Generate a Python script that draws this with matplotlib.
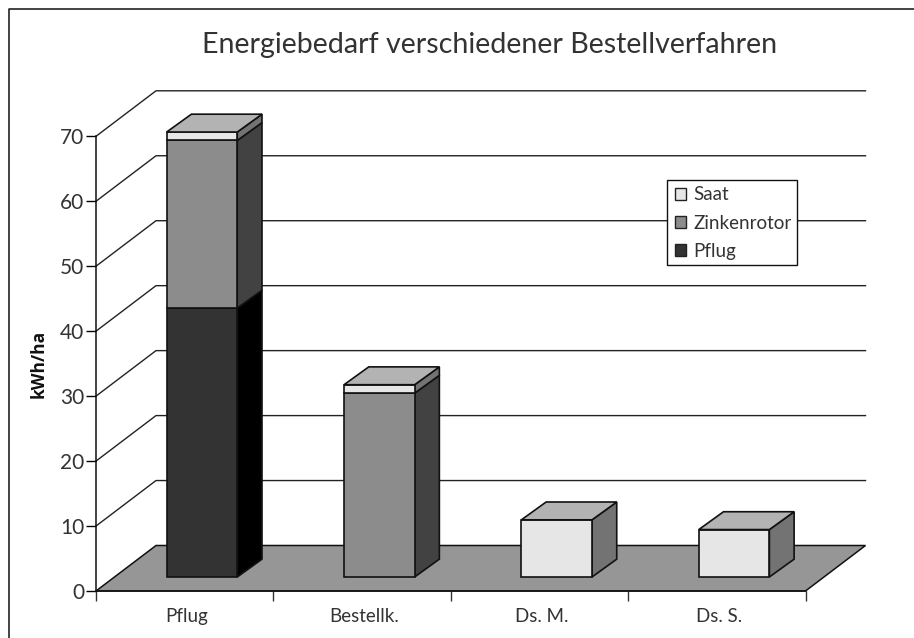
"""
Energiebedarf verschiedener Bestellverfahren - pseudo-3D gestapelte Saeulen
"""
import numpy as np
import matplotlib
matplotlib.use('Agg')
import matplotlib.pyplot as plt
from matplotlib.patches import Polygon, Rectangle

plt.rcParams['font.family'] = ['Lato', 'DejaVu Sans']

# ============================================================
# Daten
# ============================================================

categories = ['Pflug', 'Bestellk.', 'Ds. M.', 'Ds. S.']
pflug = [41.4, 0, 0, 0]
zinkenrotor = [25.8, 28.3, 0, 0]
saat = [1.3, 1.3, 8.8, 7.3]
y_ticks = [0, 10, 20, 30, 40, 50, 60, 70]

# Farben: front, top, side
colors = {
    'Pflug': ('#333333', '#1a1a1a', '#000000'),
    'Zinkenrotor': ('#8c8c8c', '#b3b3b3', '#424242'),
    'Saat': ('#e6e6e6', '#b3b3b3', '#737373'),
}

W, H = 914, 638
fig = plt.figure(figsize=(W / 100, H / 100), dpi=100)

# Vorderkante des Diagramms in Pixeln
x0, x1 = 96, 805.5
y0, y70 = 591, 136.3
ax = fig.add_axes([x0 / W, 1 - y0 / H, (x1 - x0) / W, (y0 - y70) / H])
ax.set_xlim(0, 4)
ax.set_ylim(0, 70)
ax.patch.set_visible(False)

# Tiefe in Datenkoordinaten
depth_x = 60 / ((x1 - x0) / 4)
depth_y = 45.5 / ((y0 - y70) / 70)

# Boden
ax.add_patch(Polygon([(0, 0), (4, 0), (4 + depth_x, depth_y), (depth_x, depth_y)],
                     closed=True, fc='#969696', ec='#111111', lw=1.1, clip_on=False, zorder=1))

# Gitterlinien
for t in y_ticks[1:]:
    ax.plot([0, depth_x, 4 + depth_x], [t, t + depth_y, t + depth_y],
            color='#222222', lw=1.0, clip_on=False, zorder=1)

# Saeulen
bar_w = 0.398
front_x, back_x = 0.288, 0.70
front_y, back_y = 0.308, 0.70


def draw_box(xc, bottom, height, cols):
    left = xc - bar_w / 2 + front_x * depth_x
    right = left + bar_w
    y_b = bottom + front_y * depth_y
    y_t = y_b + height
    ddx = (back_x - front_x) * depth_x
    ddy = (back_y - front_y) * depth_y
    kw = dict(closed=True, ec='#111111', lw=1.2, clip_on=False, zorder=3, joinstyle='miter')
    ax.add_patch(Polygon([(right, y_b), (right + ddx, y_b + ddy), (right + ddx, y_t + ddy), (right, y_t)],
                         fc=cols[2], **kw))
    ax.add_patch(Polygon([(left, y_b), (right, y_b), (right, y_t), (left, y_t)], fc=cols[0], **kw))
    return left, right, y_t, ddx, ddy


for i in range(len(categories)):
    bottom = 0
    last = None
    for name, vals in [('Pflug', pflug), ('Zinkenrotor', zinkenrotor), ('Saat', saat)]:
        if vals[i] > 0:
            last = draw_box(i + 0.5, bottom, vals[i], colors[name])
            bottom += vals[i]
    left, right, y_t, ddx, ddy = last
    ax.add_patch(Polygon([(left, y_t), (right, y_t), (right + ddx, y_t + ddy), (left + ddx, y_t + ddy)],
                         closed=True, fc='#b3b3b3', ec='#111111', lw=1.2, clip_on=False, zorder=3))

# Achsen
for s in ['top', 'right']:
    ax.spines[s].set_visible(False)
for s in ['left', 'bottom']:
    ax.spines[s].set_linewidth(1.1)
    ax.spines[s].set_color('#111111')
    ax.spines[s].set_zorder(2)

ax.set_yticks(y_ticks)
ax.set_xticks(range(5))
ax.set_xticklabels([])
ax.set_xticks(np.arange(4) + 0.512, minor=True)
ax.set_xticklabels(categories, minor=True)
ax.tick_params(axis='x', which='major', length=7, width=1, color='#333333')
ax.tick_params(axis='x', which='minor', length=0, labelsize=13.5, pad=12, labelcolor='#333333')
ax.tick_params(axis='y', length=7, width=1, labelsize=15, pad=1.5, labelcolor='#333333')
ax.set_ylabel('kWh/ha', fontsize=12.5, fontweight='bold', labelpad=9, color='#111111',
              family=['Open Sans', 'DejaVu Sans'])

# Titel
fig.text(490 / W, 1 - 45 / H, 'Energiebedarf verschiedener Bestellverfahren',
         fontsize=20.6, ha='center', va='center', color='#333333')

# Legende
lx0, ly0, lx1, ly1 = 667, 179.5, 796.5, 264.5
fig.add_artist(Rectangle((lx0 / W, 1 - ly1 / H), (lx1 - lx0) / W, (ly1 - ly0) / H,
                         transform=fig.transFigure, fc='white', ec='#111111', lw=1, zorder=5))
for name, yy, base in [('Saat', 194, 200), ('Zinkenrotor', 222, 228.5), ('Pflug', 250, 256.5)]:
    fig.add_artist(Rectangle((674.5 / W, 1 - (yy + 5.5) / H), 11 / W, 11 / H,
                             transform=fig.transFigure, fc=colors[name][0], ec='#222222', lw=1, zorder=6))
    fig.text(693.5 / W, 1 - base / H, name, fontsize=13.5, va='baseline', ha='left', color='#333333', zorder=6)

# Rahmen: nur links und oben sichtbar, rechts und unten bis zum Bildrand
fig.add_artist(plt.Line2D([8.5 / W, 8.5 / W, 1], [0, 1 - 8.5 / H, 1 - 8.5 / H],
                          transform=fig.transFigure, color='#111111', lw=1.1, zorder=7))

plt.savefig('out.png', dpi=100)
plt.close()
